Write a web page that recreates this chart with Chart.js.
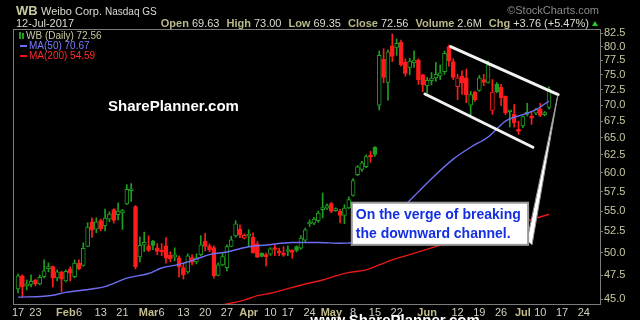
<!DOCTYPE html>
<html>
<head>
<meta charset="utf-8">
<title>WB daily</title>
<script src="https://cdn.jsdelivr.net/npm/chart.js@4.4.1/dist/chart.umd.min.js"></script>
<style>
  html, body { margin: 0; padding: 0; background: #000; }
  canvas { display: block; }
</style>
</head>
<body>
<canvas id="wbChart" width="640" height="320"></canvas>
<script>
// ============================================
// WB (Weibo) daily candles, 17-Jan-2017 .. 12-Jul-2017
// index 0 = 17-Jan, one slot per trading day
// ============================================
const OPEN = [
  46.05, 47.44, 46.37, 46.53, 47.00, 46.58, 47.37, 48.24, 48.45, 47.22,
  47.88, 46.90, 48.21, 47.37, 48.84, 48.60, 50.73, 53.67, 52.76, 53.80,
  53.18, 53.98, 55.17, 54.53, 54.75, 55.90, 57.60, 55.55, 49.55, 50.87,
  50.81, 51.35, 50.57, 50.30, 50.81, 49.75, 49.50, 49.44, 48.36, 47.88,
  49.47, 48.99, 49.78, 51.36, 50.81, 50.60, 47.50, 48.65, 48.33, 50.75,
  51.98, 52.76, 51.71, 51.95, 51.82, 51.04, 49.97, 49.70, 49.85, 50.50,
  50.10, 49.85, 50.15, 50.12, 50.73, 50.54, 51.46, 53.40, 53.50, 53.80,
  55.17, 55.35, 55.93, 55.05, 54.95, 54.45, 55.38, 57.00, 59.75, 60.45,
  60.85, 62.45, 63.57, 70.00, 77.70, 73.72, 80.15, 79.86, 80.77, 77.15,
  76.30, 77.10, 77.55, 75.00, 73.17, 74.00, 74.48, 74.80, 75.55, 80.00,
  77.30, 73.00, 74.78, 74.50, 70.00, 72.10, 72.40, 74.20, 73.72, 69.17,
  73.40, 72.90, 71.42, 68.95, 68.55, 66.10, 66.75, 68.55, 68.10, 68.75,
  69.35, 68.50, 69.63
];
const HIGH = [
  47.66, 47.55, 47.00, 47.55, 47.10, 47.55, 49.20, 48.87, 48.54, 48.10,
  47.95, 48.10, 48.43, 49.20, 49.20, 51.15, 53.55, 54.16, 54.16, 54.00,
  55.25, 54.90, 55.30, 56.00, 55.20, 58.40, 58.54, 55.70, 51.87, 52.42,
  51.98, 51.45, 51.07, 51.07, 51.76, 50.12, 50.57, 49.67, 48.84, 49.89,
  49.78, 49.89, 52.00, 52.28, 51.04, 50.81, 48.87, 50.00, 50.92, 51.93,
  53.80, 53.30, 52.20, 52.70, 52.34, 51.30, 50.00, 49.97, 50.60, 50.92,
  50.54, 50.70, 50.81, 50.35, 50.80, 52.00, 52.90, 53.90, 54.20, 55.00,
  57.30, 55.90, 56.10, 55.40, 55.20, 55.80, 56.80, 59.20, 61.00, 61.60,
  62.50, 63.00, 63.70, 79.20, 79.60, 79.40, 82.30, 81.40, 81.20, 77.80,
  77.90, 79.20, 77.80, 75.10, 74.56, 75.40, 77.15, 76.70, 79.20, 80.25,
  77.80, 75.10, 75.70, 76.00, 72.25, 72.25, 74.90, 75.10, 77.45, 74.20,
  73.70, 73.40, 71.50, 69.17, 70.10, 67.50, 68.30, 70.30, 69.00, 69.50,
  70.30, 69.00, 73.00
];
const LOW = [
  45.63, 45.22, 45.95, 46.26, 46.37, 46.47, 47.22, 47.88, 46.26, 46.90,
  45.77, 46.80, 46.90, 47.22, 48.10, 48.50, 50.70, 51.80, 52.34, 52.57,
  52.57, 53.67, 53.50, 53.90, 52.74, 55.80, 56.20, 48.20, 48.98, 50.15,
  50.15, 50.35, 49.78, 49.67, 48.84, 49.00, 49.10, 47.31, 47.10, 47.71,
  48.65, 48.76, 49.67, 50.23, 50.12, 47.20, 47.44, 48.55, 47.99, 50.70,
  51.80, 51.76, 51.60, 50.73, 49.95, 49.45, 49.55, 48.54, 49.70, 49.67,
  49.67, 49.60, 49.67, 49.40, 50.10, 50.40, 51.30, 53.10, 53.30, 53.60,
  54.13, 55.20, 54.80, 54.95, 53.52, 53.43, 55.30, 56.90, 59.60, 60.20,
  60.70, 61.45, 62.30, 69.25, 73.66, 70.80, 77.30, 78.40, 76.50, 74.78,
  75.00, 76.30, 73.40, 72.20, 71.92, 73.30, 73.90, 74.20, 75.10, 76.50,
  74.20, 70.90, 71.75, 70.40, 68.40, 70.60, 72.25, 73.17, 73.60, 68.55,
  72.00, 69.90, 68.50, 66.60, 66.60, 65.50, 66.50, 68.30, 67.00, 68.50,
  68.20, 68.30, 69.35
];
const CLOSE = [
  47.44, 46.26, 46.58, 46.85, 46.58, 47.30, 47.99, 48.45, 47.19, 47.88,
  47.10, 47.93, 47.73, 48.84, 48.21, 50.52, 53.03, 52.64, 53.67, 52.82,
  54.13, 54.62, 53.84, 55.00, 55.05, 57.80, 57.85, 48.46, 50.87, 51.21,
  50.27, 50.85, 50.15, 50.10, 49.40, 49.35, 49.78, 48.43, 47.55, 49.67,
  48.91, 49.44, 50.92, 50.75, 50.35, 47.44, 48.65, 49.59, 50.73, 51.50,
  53.43, 52.10, 52.04, 52.10, 50.03, 49.50, 49.60, 49.57, 50.45, 50.38,
  50.00, 49.74, 50.25, 50.05, 50.27, 51.71, 52.70, 53.50, 54.00, 54.75,
  55.25, 55.70, 54.95, 55.17, 54.45, 55.38, 56.45, 58.95, 60.84, 61.37,
  62.25, 62.20, 62.56, 78.41, 74.57, 79.05, 78.20, 80.60, 76.74, 75.24,
  77.40, 77.55, 74.20, 73.29, 74.08, 74.46, 75.10, 75.35, 78.75, 77.40,
  74.57, 74.50, 73.58, 71.65, 71.70, 70.85, 74.50, 73.70, 76.74, 72.13,
  72.20, 71.20, 68.78, 69.10, 67.25, 65.95, 68.20, 68.85, 67.95, 69.30,
  68.40, 68.80, 72.56
];

// moving averages (trading-day index -> value)
const MA50_AT  = [0, 6, 8, 11, 17, 20, 22, 25, 30, 33, 37, 41, 44, 48, 53, 57, 63, 69, 74, 77, 80, 83, 87, 91, 95, 100, 104, 108, 110, 112, 116, 119, 122];
const MA50_VAL = [45.2, 45.3, 45.4, 45.7, 46.05, 46.3, 46.65, 47.2, 47.7, 48.3, 48.7, 49.3, 49.8, 50.1, 50.7, 50.9, 51.2, 51.2, 51.1, 51.2, 51.7, 52.3, 54.6, 56.9, 59.2, 61.9, 63.6, 65.1, 66.3, 67.5, 68.5, 69.3, 70.67];
const MA200_AT  = [45, 48, 52, 55, 58, 61, 66, 70, 73, 76, 80, 83, 86, 90, 100, 110, 117, 122];
const MA200_VAL = [44.2, 44.5, 44.9, 45.35, 45.6, 45.96, 46.58, 47.0, 47.44, 47.8, 48.1, 48.65, 49.2, 49.8, 51.35, 52.9, 53.8, 54.59];

// axis ticks
const X_TICK_AT   = [0, 4, 11, 14, 19, 24, 30, 33, 38, 43, 48, 53, 58, 62, 67, 72, 77, 82, 87, 94, 101, 106, 111, 116, 120, 125, 130];
const X_TICK_TEXT = ['17', '23', 'Feb', '6', '13', '21', 'Mar', '6', '13', '20', '27', 'Apr', '10', '17', '24', 'May', '8', '15', '22', 'Jun', '12', '19', '26', 'Jul', '10', '17', '24'];
const Y_TICKS = [45, 47.5, 50, 52.5, 55, 57.5, 60, 62.5, 65, 67.5, 70, 72.5, 75, 77.5, 80, 82.5];

// hand-drawn annotations, in (trading-day index, price)
const CHANNEL_TOP    = [[99.4, 80.0], [124.1, 71.7]];
const CHANNEL_BOTTOM = [[93.5, 71.8], [118.3, 63.6]];
const CALLOUT_BOX    = [[76.7, 56.05], [117.2, 50.92]];
const CALLOUT_TAIL   = [[117.0, 51.4], [118.1, 50.92], [124.0, 71.5]];
const CALLOUT_TEXT   = ['On the verge of breaking', 'the downward channel.'];

// ── colours ──
const GREEN = '#1f9f1f';
const RED = '#ff1c1c';
const MA50_COLOR = '#6e6ef2';
const MA200_COLOR = '#e81818';
const TAN = '#c8c8a0';
const LIGHT = '#dcdcd0';
const FRAME = '#7c7c7c';
const FONT = '"Liberation Sans", Arial, sans-serif';

// StockCharts style: colour vs previous close, hollow when close > open
const IDX = CLOSE.map((_, i) => i);
const LINE_COL = CLOSE.map((c, i) => (i === 0 || c >= CLOSE[i - 1]) ? GREEN : RED);
const FILL_COL = CLOSE.map((c, i) => c < OPEN[i] ? LINE_COL[i] : '#000');
const MONTHS = new Set(['Feb', 'Mar', 'Apr', 'May', 'Jun', 'Jul']);

const overlay = {
  id: 'overlay',
  beforeDraw(chart) {
    const c = chart.ctx;
    c.save();
    c.fillStyle = '#000';
    c.fillRect(0, 0, chart.width, chart.height);
    c.restore();
  },
  afterDatasetsDraw(chart) {
    const { ctx: c, chartArea: a, scales: { x, y } } = chart;
    const px = v => x.getPixelForValue(v);
    const py = v => y.getPixelForValue(v);
    c.save();

    // frame round the plot
    c.strokeStyle = FRAME;
    c.lineWidth = 1;
    c.strokeRect(a.left - 0.5, a.top - 0.5, a.right - a.left + 1, a.bottom - a.top + 1);

    // channel lines
    c.strokeStyle = '#f2f2f2';
    c.lineWidth = 3;
    c.lineCap = 'round';
    [CHANNEL_TOP, CHANNEL_BOTTOM].forEach(seg => {
      c.beginPath();
      c.moveTo(px(seg[0][0]), py(seg[0][1]));
      c.lineTo(px(seg[1][0]), py(seg[1][1]));
      c.stroke();
    });

    // callout: thin tail first, box on top of it
    c.beginPath();
    CALLOUT_TAIL.forEach(([i, v], k) => k ? c.lineTo(px(i), py(v)) : c.moveTo(px(i), py(v)));
    c.closePath();
    c.fillStyle = '#fff';
    c.fill();
    c.strokeStyle = '#9a9a9a';
    c.lineWidth = 1;
    c.stroke();

    const bx = px(CALLOUT_BOX[0][0]), by = py(CALLOUT_BOX[0][1]);
    const bw = px(CALLOUT_BOX[1][0]) - bx, bh = py(CALLOUT_BOX[1][1]) - by;
    c.fillStyle = '#fff';
    c.fillRect(bx, by, bw, bh);
    c.strokeStyle = '#9a9a9a';
    c.lineWidth = 2;
    c.strokeRect(bx, by, bw, bh);
    c.fillStyle = '#1430e0';
    c.font = 'bold 14px ' + FONT;
    c.textBaseline = 'alphabetic';
    c.fillText(CALLOUT_TEXT[0], bx + 4, by + 16);
    c.fillText(CALLOUT_TEXT[1], bx + 4, by + 35);

    // watermark
    c.fillStyle = '#fff';
    c.font = 'bold 15px ' + FONT;
    c.fillText('SharePlanner.com', a.left + 94, a.top + 81);
    c.textAlign = 'center';
    c.fillText('www.SharePlanner.com', 395, 325);
    c.textAlign = 'left';

    // legend
    const lx = a.left;
    c.fillStyle = GREEN;
    c.fillRect(lx + 5, a.top + 2, 2, 7);
    c.fillRect(lx + 8, a.top + 3, 2, 6);
    c.fillStyle = TAN;
    c.font = '10px ' + FONT;
    c.textBaseline = 'middle';
    c.fillText('WB (Daily) ' + CLOSE[CLOSE.length - 1].toFixed(2), lx + 12, a.top + 6);
    c.fillStyle = MA50_COLOR;
    c.fillRect(lx + 6, a.top + 15, 7, 2);
    c.fillStyle = '#7c7cff';
    c.fillText('MA(50) ' + MA50_VAL[MA50_VAL.length - 1].toFixed(2), lx + 15, a.top + 16);
    c.fillStyle = MA200_COLOR;
    c.fillRect(lx + 6, a.top + 25, 7, 2);
    c.fillStyle = '#ff2a2a';
    c.fillText('MA(200) ' + MA200_VAL[MA200_VAL.length - 1].toFixed(2), lx + 15, a.top + 26);

    c.restore();
  },
  afterDraw(chart) {
    const c = chart.ctx;
    const last = CLOSE.length - 1;
    c.save();
    c.textBaseline = 'alphabetic';

    // line 1
    c.fillStyle = TAN;
    c.font = 'bold 13px ' + FONT;
    c.fillText('WB', 16, 15);
    c.fillStyle = LIGHT;
    c.font = '11px ' + FONT;
    c.fillText('Weibo Corp.', 41, 15);
    c.font = '10px ' + FONT;
    c.fillText('Nasdaq GS', 105, 15);
    c.fillStyle = '#8a8a8a';
    c.font = '11px ' + FONT;
    c.textAlign = 'right';
    c.fillText('\u00a9StockCharts.com', 599, 14);
    c.textAlign = 'left';

    // line 2
    c.fillStyle = LIGHT;
    c.font = '11px ' + FONT;
    c.fillText('12-Jul-2017', 16, 27);

    const chg = CLOSE[last] - CLOSE[last - 1];
    const pct = chg / CLOSE[last - 1] * 100;
    const parts = [
      ['Open', OPEN[last].toFixed(2)],
      ['High', HIGH[last].toFixed(2)],
      ['Low', LOW[last].toFixed(2)],
      ['Close', CLOSE[last].toFixed(2)],
      ['Volume', '2.6M'],
      ['Chg', '+' + chg.toFixed(2) + ' (+' + pct.toFixed(2) + '%)']
    ];
    const bold = 'bold 11px ' + FONT, plain = '11px ' + FONT;
    let total = 0;
    parts.forEach(([k, v], n) => {
      c.font = bold; total += c.measureText(k).width + 3;
      c.font = plain; total += c.measureText(v).width + (n < parts.length - 1 ? 7 : 0);
    });
    let cx = 589 - total;
    parts.forEach(([k, v]) => {
      c.font = bold; c.fillStyle = '#b8b88a';
      c.fillText(k, cx, 27); cx += c.measureText(k).width + 3;
      c.font = plain; c.fillStyle = LIGHT;
      c.fillText(v, cx, 27); cx += c.measureText(v).width + 7;
    });
    c.fillStyle = '#22cc22';
    c.beginPath();
    c.moveTo(592, 26); c.lineTo(598, 26); c.lineTo(595, 21); c.closePath();
    c.fill();
    c.restore();
  }
};

new Chart(document.getElementById('wbChart'), {
  type: 'bar',
  data: {
    datasets: [
      {
        type: 'line',
        label: 'MA(50)',
        data: MA50_AT.map((d, k) => ({ x: d, y: MA50_VAL[k] })),
        borderColor: MA50_COLOR,
        borderWidth: 1.4,
        pointRadius: 0,
        cubicInterpolationMode: 'monotone',
        order: 1,
      },
      {
        type: 'line',
        label: 'MA(200)',
        data: MA200_AT.map((d, k) => ({ x: d, y: MA200_VAL[k] })),
        borderColor: MA200_COLOR,
        borderWidth: 1.4,
        pointRadius: 0,
        cubicInterpolationMode: 'monotone',
        order: 1,
      },
      {
        label: 'wick',
        data: IDX.map(i => ({ x: i, y: [LOW[i], HIGH[i]] })),
        backgroundColor: LINE_COL,
        barThickness: 1,
        grouped: false,
        order: 3,
      },
      {
        label: 'body',
        data: IDX.map(i => ({ x: i, y: [Math.min(OPEN[i], CLOSE[i]), Math.max(OPEN[i], CLOSE[i])] })),
        backgroundColor: FILL_COL,
        borderColor: LINE_COL,
        borderWidth: 1,
        borderSkipped: false,
        barThickness: 4,
        minBarLength: 2,
        grouped: false,
        order: 2,
      },
    ],
  },
  options: {
    responsive: false,
    animation: false,
    events: [],
    layout: { padding: { left: 14, top: 30, right: 0, bottom: 0 } },
    plugins: { legend: { display: false }, tooltip: { enabled: false } },
    scales: {
      x: {
        type: 'linear',
        min: -0.92,
        max: 133.72,
        offset: false,
        bounds: 'data',
        grid: { display: false, drawTicks: false },
        border: { display: false },
        afterBuildTicks: s => { s.ticks = X_TICK_AT.map(v => ({ value: v })); },
        afterFit: s => { s.height = 16; },
        ticks: {
          autoSkip: false,
          maxRotation: 0,
          padding: 2,
          callback: (v, k) => X_TICK_TEXT[k],
          color: ctx => MONTHS.has(X_TICK_TEXT[ctx.index]) ? '#c4bc8c' : '#d0d0c0',
          font: ctx => ({ family: FONT, size: 11, weight: MONTHS.has(X_TICK_TEXT[ctx.index]) ? 'bold' : 'normal' }),
        },
      },
      y: {
        type: 'logarithmic',
        position: 'right',
        min: 44.5,
        max: 83.07,
        bounds: 'data',
        beginAtZero: false,
        grid: { drawOnChartArea: false, drawTicks: true, tickLength: 3, color: FRAME },
        border: { display: false },
        afterBuildTicks: s => { s.ticks = Y_TICKS.map(v => ({ value: v })); },
        afterFit: s => { s.width = 40; },
        ticks: {
          padding: 1,
          color: TAN,
          font: { family: FONT, size: 11 },
          callback: v => Number(v).toFixed(1),
        },
      },
    },
  },
  plugins: [overlay],
});
</script>
</body>
</html>
